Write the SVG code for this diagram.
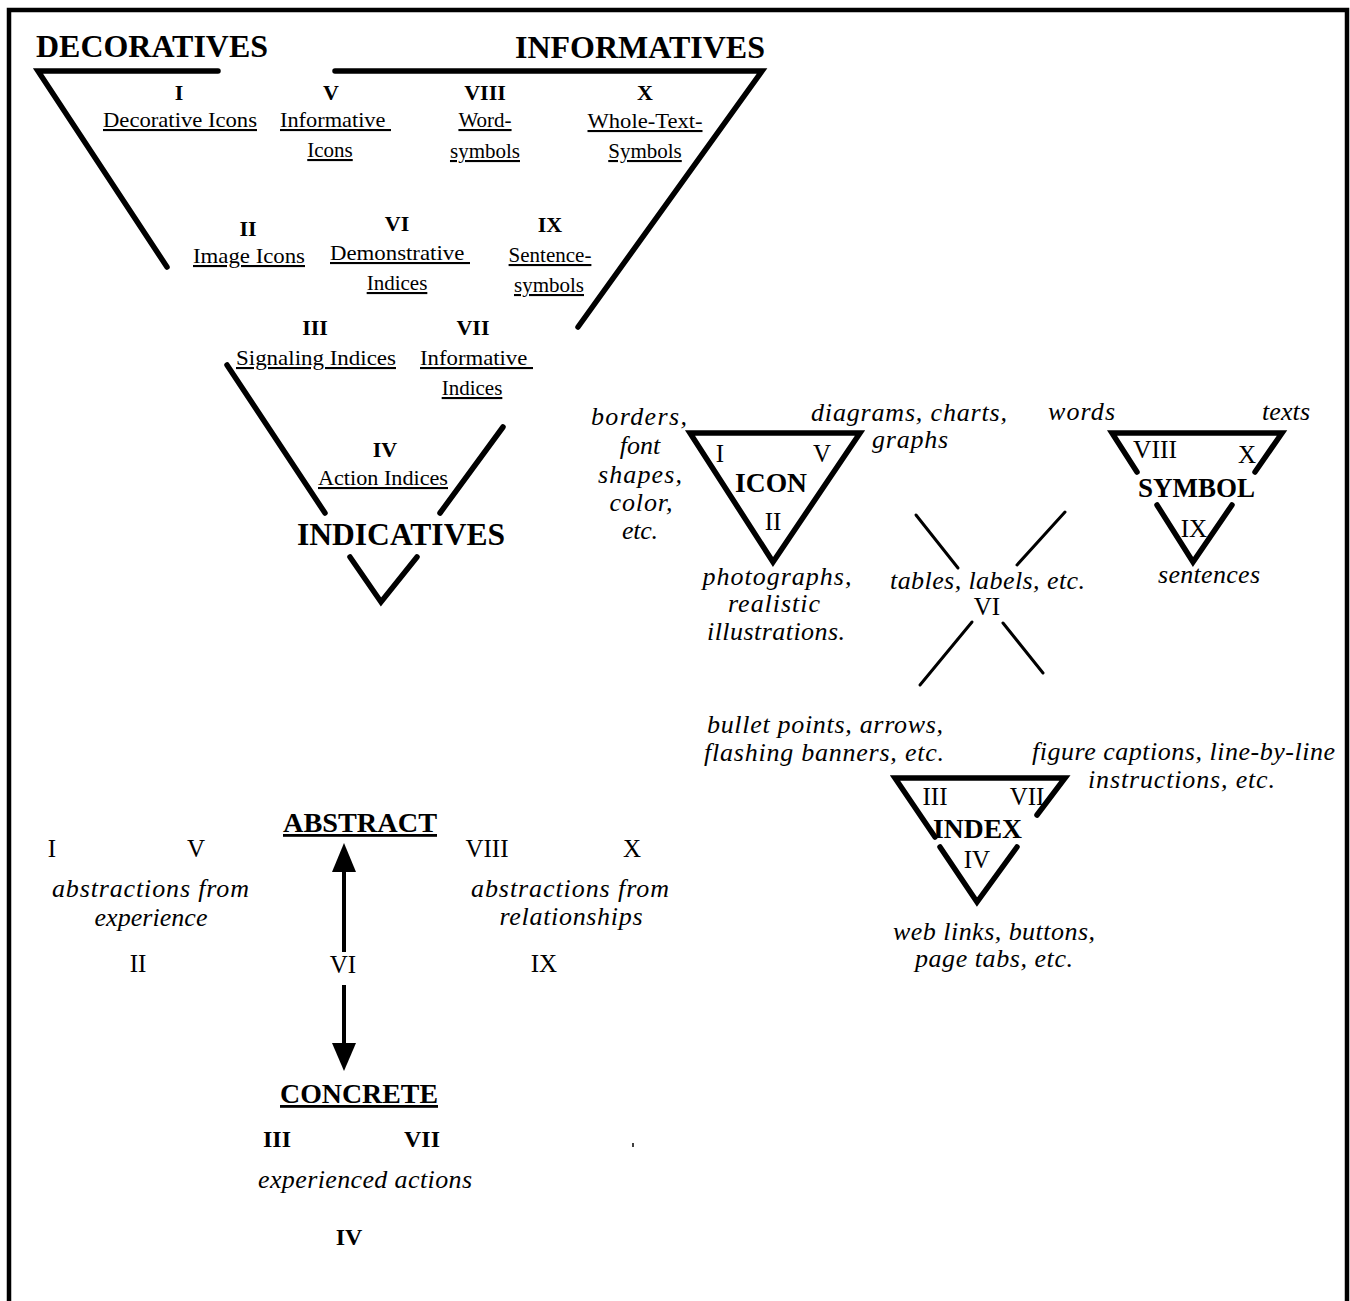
<svg xmlns="http://www.w3.org/2000/svg" width="1350" height="1301" viewBox="0 0 1350 1301">
<style>
text{font-family:"Liberation Serif","Times New Roman",serif;fill:#000}
.h{font-size:31px;font-weight:bold}
.n{font-size:22px;font-weight:bold;text-anchor:middle}
.lb{font-size:21px;text-decoration:underline;text-anchor:middle}
.lbs{font-size:21px;text-decoration:underline}
.r{font-size:25px;text-anchor:middle}
.rs{font-size:25px}
.nb{font-size:24px;font-weight:bold;text-anchor:middle}
.tb{font-size:27px;font-weight:bold}
.ul{font-size:28px;font-weight:bold;text-decoration:underline}
.it{font-size:26px;font-style:italic}
.itm{font-size:26px;font-style:italic;text-anchor:middle}
.big{fill:none;stroke:#000;stroke-width:5.5;stroke-linecap:round;stroke-linejoin:miter}
.thin{fill:none;stroke:#000;stroke-width:3;stroke-linecap:round}
</style>
<rect width="1350" height="1301" fill="#fff"/>
<path d="M9,1301 V10 H1347 V1301" fill="none" stroke="#000" stroke-width="4.5"/>

<g id="decoratives">
<text class="h" x="36" y="57" textLength="232" lengthAdjust="spacingAndGlyphs">DECORATIVES</text>
<path class="big" d="M218,71 H38 L167,267"/>
<text class="n" x="179" y="100">I</text>
<text class="lb" x="180" y="127" textLength="154" lengthAdjust="spacingAndGlyphs">Decorative Icons</text>
<text class="n" x="248" y="236">II</text>
<text class="lb" x="249" y="263" textLength="112" lengthAdjust="spacingAndGlyphs">Image Icons</text>
</g>

<g id="informatives">
<text class="h" x="515" y="58" textLength="250" lengthAdjust="spacingAndGlyphs">INFORMATIVES</text>
<path class="big" d="M335,71 H762 L578,327"/>
<text class="n" x="331" y="100">V</text>
<text class="lbs" x="280" y="127" textLength="111" lengthAdjust="spacingAndGlyphs">Informative&#160;</text>
<text class="lb" x="330" y="157">Icons</text>
<text class="n" x="485" y="100">VIII</text>
<text class="lb" x="485" y="127">Word-</text>
<text class="lb" x="485" y="158">symbols</text>
<text class="n" x="645" y="100">X</text>
<text class="lb" x="645" y="128" textLength="115" lengthAdjust="spacingAndGlyphs">Whole-Text-</text>
<text class="lb" x="645" y="158">Symbols</text>
<text class="n" x="397" y="231">VI</text>
<text class="lbs" x="330" y="260" textLength="140" lengthAdjust="spacingAndGlyphs">Demonstrative&#160;</text>
<text class="lb" x="397" y="290">Indices</text>
<text class="n" x="550" y="232">IX</text>
<text class="lb" x="550" y="262">Sentence-</text>
<text class="lb" x="549" y="292">symbols</text>
</g>

<g id="indicatives">
<text class="n" x="315" y="335">III</text>
<text class="lb" x="316" y="365" textLength="160" lengthAdjust="spacingAndGlyphs">Signaling Indices</text>
<text class="n" x="473" y="335">VII</text>
<text class="lbs" x="420" y="365" textLength="113" lengthAdjust="spacingAndGlyphs">Informative&#160;</text>
<text class="lb" x="472" y="395">Indices</text>
<text class="n" x="385" y="457">IV</text>
<text class="lb" x="383" y="485" textLength="130" lengthAdjust="spacingAndGlyphs">Action Indices</text>
<path class="big" d="M227,365 L325,513"/>
<path class="big" d="M503,427 L440,513"/>
<text class="h" x="297" y="545" textLength="208" lengthAdjust="spacingAndGlyphs">INDICATIVES</text>
<path class="big" d="M350,557 L381,602 L417,557"/>
</g>

<g id="icon">
<path class="big" d="M690,433 H860 L773,562 Z"/>
<text class="r" x="720" y="462">I</text>
<text class="r" x="822" y="462">V</text>
<text class="tb" x="735" y="492" textLength="72" lengthAdjust="spacingAndGlyphs">ICON</text>
<text class="r" x="773" y="530">II</text>
<text class="itm" x="639" y="425" textLength="96">borders,</text>
<text class="itm" x="640" y="454">font</text>
<text class="itm" x="640" y="483" textLength="84">shapes,</text>
<text class="itm" x="641" y="511" textLength="63">color,</text>
<text class="itm" x="640" y="539" textLength="36">etc.</text>
<text class="it" x="811" y="421" textLength="196">diagrams, charts,</text>
<text class="it" x="872" y="448" textLength="76">graphs</text>
<text class="itm" x="777" y="585" textLength="149">photographs,</text>
<text class="itm" x="774" y="612" textLength="92">realistic</text>
<text class="itm" x="776" y="640" textLength="138">illustrations.</text>
</g>

<g id="demonstrative">
<text class="it" x="890" y="589" textLength="195">tables, labels, etc.</text>
<text class="r" x="987" y="615">VI</text>
</g>

<g id="symbol">
<path class="big" d="M1137,472 L1112,433 H1282 L1255,472"/>
<path class="big" d="M1157,505 L1193,562 L1232,505"/>
<text class="rs" x="1133" y="458" textLength="44" lengthAdjust="spacingAndGlyphs">VIII</text>
<text class="r" x="1247" y="463">X</text>
<text class="tb" x="1138" y="497" textLength="117" lengthAdjust="spacingAndGlyphs">SYMBOL</text>
<text class="r" x="1194" y="537">IX</text>
<text class="it" x="1048" y="420" textLength="67">words</text>
<text class="it" x="1262" y="420" textLength="48">texts</text>
<text class="itm" x="1209" y="583" textLength="102">sentences</text>
</g>

<g id="index">
<path class="big" d="M935,837 L895,778 H1065 L1037,815"/>
<path class="big" d="M940,847 L977,902 L1017,847"/>
<text class="r" x="935" y="805">III</text>
<text class="r" x="1027" y="805">VII</text>
<text class="tb" x="933" y="838" textLength="89" lengthAdjust="spacingAndGlyphs">INDEX</text>
<text class="r" x="977" y="868">IV</text>
<text class="it" x="707" y="733" textLength="236">bullet points, arrows,</text>
<text class="it" x="704" y="761" textLength="240">flashing banners, etc.</text>
<text class="it" x="1032" y="760" textLength="303">figure captions, line-by-line</text>
<text class="it" x="1088" y="788" textLength="187">instructions, etc.</text>
<text class="it" x="893" y="940" textLength="202">web links, buttons,</text>
<text class="it" x="915" y="967" textLength="158">page tabs, etc.</text>
</g>

<g id="abstract">
<text class="ul" x="283" y="832" textLength="154" lengthAdjust="spacingAndGlyphs">ABSTRACT</text>
<text class="r" x="52" y="857">I</text>
<text class="r" x="196" y="857">V</text>
<text class="it" x="52" y="897" textLength="197">abstractions from</text>
<text class="itm" x="151" y="926" textLength="113">experience</text>
<text class="r" x="138" y="972">II</text>
<text class="r" x="343" y="973">VI</text>
<text class="r" x="487" y="857">VIII</text>
<text class="r" x="632" y="857">X</text>
<text class="it" x="471" y="897" textLength="198">abstractions from</text>
<text class="itm" x="571" y="925" textLength="143">relationships</text>
<text class="r" x="544" y="972">IX</text>
</g>

<g id="concrete">
<text class="ul" x="280" y="1103" textLength="158" lengthAdjust="spacingAndGlyphs">CONCRETE</text>
<text class="nb" x="277" y="1147">III</text>
<text class="nb" x="422" y="1147">VII</text>
<text class="it" x="258" y="1188" textLength="214">experienced actions</text>
<text class="nb" x="349" y="1245">IV</text>
<path d="M633,1143 V1147" stroke="#000" stroke-width="1.5"/>
</g>

<g id="connectors">
<path d="M344,866 V952" stroke="#000" stroke-width="4"/>
<polygon points="344,843 332,872 356,872"/>
<path d="M344,985 V1048" stroke="#000" stroke-width="4"/>
<polygon points="332,1043 356,1043 344,1071"/>
<path class="thin" d="M916,515 L958,568"/>
<path class="thin" d="M1065,512 L1017,565"/>
<path class="thin" d="M972,622 L920,685"/>
<path class="thin" d="M1003,623 L1043,673"/>
</g>
</svg>
